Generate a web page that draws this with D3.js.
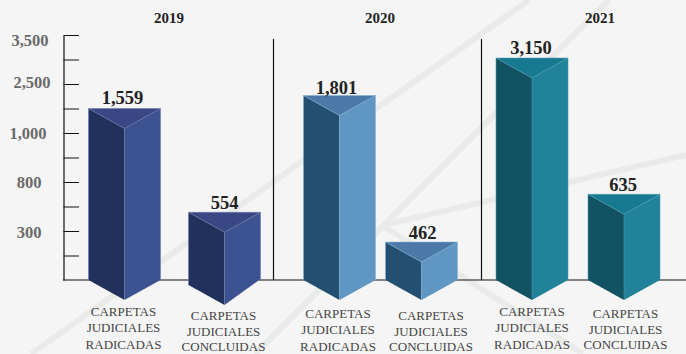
<!DOCTYPE html>
<html lang="es">
<head>
<meta charset="utf-8">
<script src="https://cdn.jsdelivr.net/npm/d3@7/dist/d3.min.js"></script>
<style>
html,body{margin:0;padding:0;background:#f5f5f5;overflow:hidden}
svg{display:block}
text{font-family:"Liberation Serif","DejaVu Serif",serif}
</style>
</head>
<body>
<svg id="chart" width="686" height="354"></svg>
<script>
// Yearly panels and their column values
const years = ["2019", "2020", "2021"];
const filed = [1559, 1801, 3150];
const concluded = [554, 462, 635];
const filedLabel = ["CARPETAS", "JUDICIALES", "RADICADAS"];
const concludedLabel = ["CARPETAS", "JUDICIALES", "CONCLUIDAS"];
const axisLabels = ["", "", "300", "", "800", "", "1,000", "", "2,500", "", "3,500"];

// Shades per year
const leftFace = ["#22315c", "#234f70", "#125262"];
const rightFace = ["#3d5290", "#6096c2", "#21829a"];
const topFace = ["#3a4785", "#4b7aa8", "#177a90"];
const edgeColor = ["#6b7bab", "#86b2d6", "#4b9db1"];

// Layout of the panels
const yearX = [169, 380, 600];
const dividerX = [273.5, 481.5];
const filedX = [124.5, 339.5, 532];
const concludedX = [224.5, 421.5, 624];
const filedTextX = [123.5, 338, 532];
const concludedTextX = [223.5, 431, 625.5];
const filedTextY = [316, 318, 316];
const concludedTextY = [320, 320, 318];
const filedValueDx = [-2, -3, -1];
const concludedValueDx = [0, 1, -1];
const filedValueGap = [4.5, 1.5, 4];
const concludedValueGap = [3.5, 3.5, 3.5];
const axisLabelDx = [0, 0, 0, 0, 0, 0, -1, 0, 3, 0, 1];
const axisLabelDy = [0, 0, 1, 0, 0, 0, 0, 0, -2, 0, 5];

// The columns follow a stepped height scale, so each value has its own anchor
const heightDomain = [0, 462, 554, 635, 1559, 1801, 3150, 3500];
const heightRange = [280, 242, 212.3, 194.3, 108.5, 95.5, 58, 35];
const y = d3.scaleLinear().domain(heightDomain).range(heightRange);

const halfWidth = 36;
const tipDrop = 20;

const svg = d3.select("#chart");

// Faint diagonal strokes behind the chart
const backdrop = d3.line();
const strokes = [
  [[31, 354], [529, 0]],
  [[609, 0], [255, 354]],
  [[388, 224], [686, 155]],
  [[385, 227], [583, 354]]
];
svg.append("g")
  .selectAll("path")
  .data(strokes)
  .join("path")
  .attr("d", backdrop)
  .attr("fill", "none")
  .attr("stroke", "#e9ebe9")
  .attr("stroke-width", 6);

// Vertical axis: evenly spaced steps, a label on every other one
const steps = d3.scaleLinear().domain([0, axisLabels.length - 1]).range([280, 35]);
const axis = d3.axisLeft(steps)
  .tickValues(d3.range(1, axisLabels.length))
  .tickSize(-15.5)
  .tickSizeOuter(0)
  .tickFormat(i => axisLabels[i]);
const axisG = svg.append("g").attr("transform", "translate(63.5,0)").call(axis);
axisG.selectAll(".domain").attr("stroke", "#111").attr("stroke-width", 1.2);
axisG.selectAll(".tick line").attr("stroke", "#111").attr("stroke-width", 1);
axisG.selectAll(".tick text")
  .attr("text-anchor", "middle")
  .attr("x", i => -34.5 + axisLabelDx[i])
  .attr("dy", i => `${0.32 * 16.5 + axisLabelDy[i]}px`)
  .attr("fill", "#6a6a6a")
  .attr("font-size", 16.5)
  .attr("font-weight", 700)
  .style("font-family", '"Liberation Serif",serif');

// Baseline and panel dividers
svg.append("line")
  .attr("x1", 63).attr("x2", 686)
  .attr("y1", y(0)).attr("y2", y(0))
  .attr("stroke", "#111").attr("stroke-width", 1.2);
svg.append("g").selectAll("line").data(dividerX).join("line")
  .attr("x1", d => d).attr("x2", d => d)
  .attr("y1", 39).attr("y2", y(0))
  .attr("stroke", "#111").attr("stroke-width", 1.2);

// Year headings
svg.append("g").selectAll("text").data(years).join("text")
  .attr("x", (d, i) => yearX[i])
  .attr("y", 23)
  .attr("text-anchor", "middle")
  .attr("font-size", 15)
  .attr("font-weight", 700)
  .attr("fill", "#222")
  .text(d => d);

// Flatten the two series into one list of columns
const columns = years.flatMap((year, i) => [
  { year: i, value: filed[i], cx: filedX[i], labelX: filedTextX[i], labelY: filedTextY[i], leading: 16.3,
    lines: filedLabel, valueDx: filedValueDx[i], gap: filedValueGap[i], sinkL: 0, sinkR: 0, sinkTip: 0 },
  { year: i, value: concluded[i], cx: concludedX[i], labelX: concludedTextX[i], labelY: concludedTextY[i], leading: 15.6,
    lines: concludedLabel, valueDx: concludedValueDx[i], gap: concludedValueGap[i],
    sinkL: i === 0 ? 5 : 0, sinkR: i === 0 ? -1 : 0, sinkTip: i === 0 ? 5 : 0 }
]);

const poly = pts => "M" + pts.map(p => p.join(",")).join("L") + "Z";
const column = svg.append("g").selectAll("g").data(columns).join("g");

// Left face
column.append("path")
  .attr("d", d => {
    const t = y(d.value), b = y(0);
    return poly([[d.cx - halfWidth, t], [d.cx, t + tipDrop], [d.cx, b + tipDrop + d.sinkTip], [d.cx - halfWidth, b + d.sinkL]]);
  })
  .attr("fill", d => leftFace[d.year]);

// Right face
column.append("path")
  .attr("d", d => {
    const t = y(d.value), b = y(0);
    return poly([[d.cx + halfWidth, t], [d.cx, t + tipDrop], [d.cx, b + tipDrop + d.sinkTip], [d.cx + halfWidth, b + d.sinkR]]);
  })
  .attr("fill", d => rightFace[d.year]);

// Top face
column.append("path")
  .attr("d", d => {
    const t = y(d.value);
    return poly([[d.cx - halfWidth, t], [d.cx + halfWidth, t], [d.cx, t + tipDrop]]);
  })
  .attr("fill", d => topFace[d.year]);

// Thin light seams along the column edges
column.append("path")
  .attr("d", d => {
    const t = y(d.value), b = y(0), l = d.cx - halfWidth, r = d.cx + halfWidth;
    return `M${l},${b + d.sinkL}V${t}H${r}V${b + d.sinkR}M${l},${t}L${d.cx},${t + tipDrop}L${r},${t}M${d.cx},${t + tipDrop}V${b + tipDrop + d.sinkTip}`;
  })
  .attr("fill", "none")
  .attr("stroke", d => edgeColor[d.year])
  .attr("stroke-width", 0.7)
  .attr("stroke-opacity", 0.8);

// Value above each column
column.append("text")
  .attr("x", d => d.cx + d.valueDx)
  .attr("y", d => y(d.value) - d.gap)
  .attr("text-anchor", "middle")
  .attr("font-size", 18.5)
  .attr("font-weight", 700)
  .attr("fill", "#222")
  .text(d => d3.format(",")(d.value));

// Three-line category label under each column
column.append("text")
  .attr("text-anchor", "middle")
  .attr("font-size", 13)
  .attr("fill", "#444")
  .selectAll("tspan")
  .data(d => d.lines.map((line, i) => ({ line, x: d.labelX, y: d.labelY + i * d.leading })))
  .join("tspan")
  .attr("x", d => d.x)
  .attr("y", d => d.y)
  .text(d => d.line);
</script>
</body>
</html>
